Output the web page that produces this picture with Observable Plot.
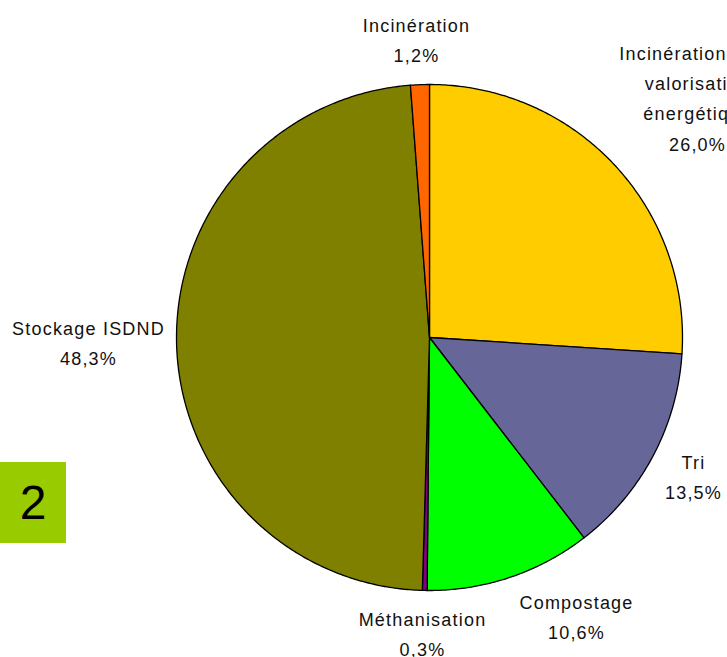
<!DOCTYPE html>
<html><head><meta charset="utf-8">
<script src="https://cdn.jsdelivr.net/npm/d3@7"></script>
<script src="https://cdn.jsdelivr.net/npm/@observablehq/plot@0.6"></script>
<style>
body{margin:0;background:#fff;}
#wrap{position:relative;width:727px;height:657px;overflow:hidden;}
#wrap svg text{letter-spacing:1.2px;}
#badge{position:absolute;left:0;top:462px;width:66px;height:81px;background:#99CC00;color:#000;font:48px "Liberation Sans",Arial,sans-serif;display:flex;align-items:center;justify-content:center;}
</style></head>
<body><div id="wrap"><div id="badge">2</div></div>
<script>
const categories = ["Incinération avec valorisation énergétique","Tri","Compostage","Méthanisation","Stockage ISDND","Incinération"];
const values = [26.0, 13.5, 10.6, 0.3, 48.3, 1.2];
const labelNames = ["Incinération avec\nvalorisation\nénergétique","Tri","Compostage","Méthanisation","Stockage ISDND","Incinération"];
const colors = ["#FFCC00","#666699","#00FF00","#800080","#808000","#FF6600"];
// label layout (pixel centres)
const labelPx = [[697,95],[693,474],[576,614],[422,631],[88,340],[416,37]];

const cx = 429, cy = 337, R = 253;
const arcs = d3.pie().sort(null).value(d => d)(values);
const pts = [];
arcs.forEach((a, i) => {
  const n = Math.max(2, Math.ceil((a.endAngle - a.startAngle) / 0.01));
  pts.push({k: i, x: 0, y: 0});
  for (let j = 0; j <= n; j++) {
    const t = a.startAngle + (a.endAngle - a.startAngle) * j / n;
    pts.push({k: i, x: Math.sin(t), y: Math.cos(t)});
  }
  pts.push({k: i, x: 0, y: 0});
});
const fmt = v => v.toFixed(1).replace(".", ",") + "%";
const labels = categories.map((c, i) => ({
  text: labelNames[i] + "\n" + fmt(values[i]),
  x: (labelPx[i][0] - cx) / R,
  y: (cy - labelPx[i][1]) / R
}));

const chart = Plot.plot({
  width: 727, height: 657,
  margin: 0,
  x: {domain: [-1, 1], range: [cx - R, cx + R], axis: null},
  y: {domain: [-1, 1], range: [cy + R, cy - R], axis: null},
  style: {fontFamily: '"Liberation Sans", Arial, sans-serif', background: "white"},
  marks: [
    Plot.line(pts, {x: "x", y: "y", z: "k", fill: d => colors[d.k], stroke: "black", strokeWidth: 1.3, strokeLinejoin: "round"}),
    Plot.text(labels, {x: "x", y: "y", text: "text", fontSize: 18, lineHeight: 1.68, fill: "#111", textAnchor: "middle"})
  ]
});
document.getElementById("wrap").appendChild(chart);
</script>
</body></html>
